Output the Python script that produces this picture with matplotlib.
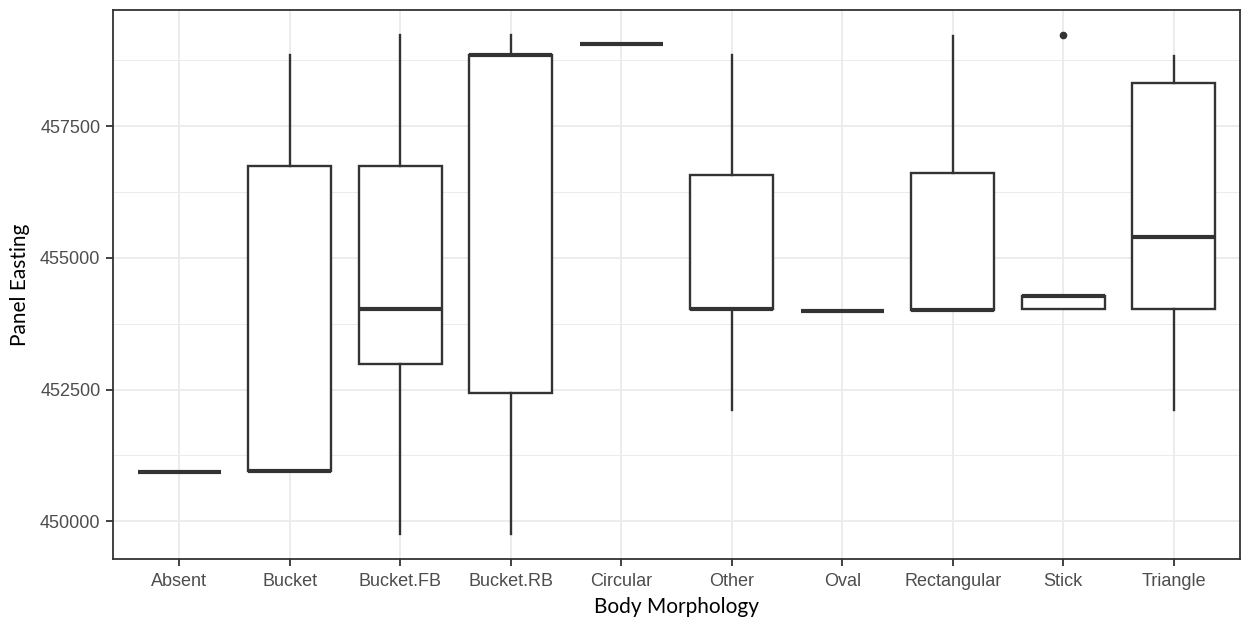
import matplotlib
matplotlib.use("Agg")
import matplotlib.pyplot as plt
from matplotlib.ticker import MultipleLocator

# Valores (cuartiles, bigotes y atipicos por categoria)
categorias = ["Absent", "Bucket", "Bucket.FB", "Bucket.RB", "Circular",
              "Other", "Oval", "Rectangular", "Stick", "Triangle"]
q1 = [450934, 450957, 452983, 452444, 459064, 454038, 454000, 454016, 454023, 454023]
mediana = [450934, 450957, 454023, 458844, 459064, 454038, 454000, 454016, 454281, 455390]
q3 = [450934, 456749, 456749, 458844, 459064, 456574, 454000, 456612, 454281, 458320]
bigote_inf = [450934, 450957, 449765, 449765, 459064, 452118, 454000, 454016, 454023, 452118]
bigote_sup = [450934, 458851, 459231, 459231, 459064, 458851, 454000, 459216, 454281, 458836]
atipicos = [[], [], [], [], [], [], [], [], [459223], []]

linea = "#333333"
texto = "#4D4D4D"
rejilla = "#EBEBEB"

fig = plt.figure(figsize=(12.47, 6.27), dpi=100)
ax = fig.add_axes([113 / 1247, 1 - 559 / 627, (1240 - 113) / 1247, (559 - 10) / 627])

# Construir las estadisticas para bxp
stats = []
for i in range(len(categorias)):
    stats.append({
        "label": categorias[i],
        "q1": q1[i], "med": mediana[i], "q3": q3[i],
        "whislo": bigote_inf[i], "whishi": bigote_sup[i],
        "fliers": atipicos[i],
    })

posiciones = list(range(1, len(categorias) + 1))
ax.bxp(stats, positions=posiciones, widths=0.75, showcaps=False,
       patch_artist=True,
       boxprops=dict(facecolor="white", edgecolor=linea, linewidth=1.7),
       medianprops=dict(color=linea, linewidth=3.0, solid_capstyle="butt"),
       whiskerprops=dict(color=linea, linewidth=1.7),
       flierprops=dict(marker="o", markerfacecolor=linea, markeredgecolor=linea,
                       markersize=4.5),
       zorder=3)

# Ejes y rejilla al estilo theme_bw
ax.set_xlim(0.4, len(categorias) + 0.6)
ax.set_ylim(449286, 459701)
ax.yaxis.set_major_locator(MultipleLocator(2500))
ax.yaxis.set_minor_locator(MultipleLocator(1250))
ax.set_yticks([450000, 452500, 455000, 457500])
ax.set_xticks(posiciones)
ax.set_xticklabels(categorias)

ax.grid(True, which="major", color=rejilla, linewidth=1.3, zorder=0)
ax.grid(True, which="minor", axis="y", color=rejilla, linewidth=0.7, zorder=0)
ax.set_axisbelow(True)

for lado in ax.spines.values():
    lado.set_color(linea)
    lado.set_linewidth(1.3)

ax.tick_params(axis="both", which="major", colors=linea, length=5, width=1.3,
               labelcolor=texto, labelsize=13)
ax.tick_params(axis="y", which="minor", length=0)
for etiqueta in ax.get_xticklabels() + ax.get_yticklabels():
    etiqueta.set_family("Liberation Sans")
ax.tick_params(axis="x", pad=5)
ax.tick_params(axis="y", pad=4)

ax.set_xlabel("Body Morphology", family="Lato", fontsize=15, color="black", labelpad=5)
ax.set_ylabel("Panel Easting", family="Lato", fontsize=15, color="black", labelpad=7)

plt.savefig("out.png", dpi=100)
